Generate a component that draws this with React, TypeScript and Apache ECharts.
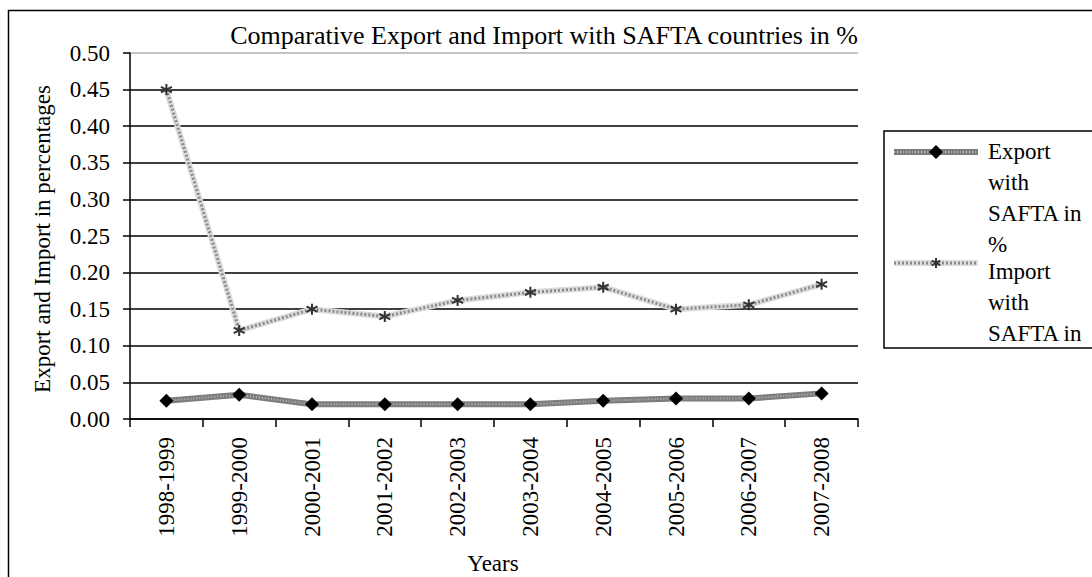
import React, { useEffect, useRef } from "react";
import * as echarts from "echarts";

const years = [
  "1998-1999", "1999-2000", "2000-2001", "2001-2002", "2002-2003",
  "2003-2004", "2004-2005", "2005-2006", "2006-2007", "2007-2008",
];
const exportShare = [0.025, 0.033, 0.02, 0.02, 0.02, 0.02, 0.025, 0.028, 0.028, 0.035];
const importShare = [0.45, 0.121, 0.15, 0.14, 0.162, 0.173, 0.18, 0.15, 0.156, 0.184];

const titleText = "Comparative Export and Import with SAFTA countries in %";
const yTitle = "Export and Import in percentages";
const xTitle = "Years";
const exportLegend = "Export\nwith\nSAFTA in\n%";
const importLegend = "Import\nwith\nSAFTA in";

const FONT = "Liberation Serif, Times New Roman, serif";
const STAR = "path://M5,0L5,10M0.7,2.5L9.3,7.5M9.3,2.5L0.7,7.5";

const serif = (size: number) => ({ fontFamily: FONT, fontSize: size, fill: "#000" });

export default function App() {
  const ref = useRef<HTMLDivElement>(null);

  useEffect(() => {
    if (!ref.current) return;
    const chart = echarts.init(ref.current, null, { renderer: "svg" });

    const gridColors = [
      "#000", "#000", "#000", "#000", "#000", "#000",
      "#000", "#000", "#000", "#000", "#b0b0b0",
    ];

    chart.setOption({
      animation: false,
      backgroundColor: "#fff",
      textStyle: { fontFamily: FONT },
      grid: { left: 130, right: 234, top: 53, bottom: 158, containLabel: false },
      xAxis: {
        type: "category",
        data: years,
        boundaryGap: true,
        axisLine: { lineStyle: { color: "#000", width: 1.5 } },
        axisTick: { show: true, length: 8, lineStyle: { color: "#000", width: 1.5 } },
        axisLabel: {
          rotate: 90,
          margin: 18,
          color: "#000",
          fontFamily: FONT,
          fontSize: 23,
        },
        splitLine: { show: false },
      },
      yAxis: {
        type: "value",
        min: 0,
        max: 0.5,
        interval: 0.05,
        axisLine: { show: true, lineStyle: { color: "#000", width: 1.5 } },
        axisTick: { show: true, length: 7, lineStyle: { color: "#000", width: 1.5 } },
        axisLabel: {
          margin: 20,
          color: "#000",
          fontFamily: FONT,
          fontSize: 23,
          formatter: (v: number) => v.toFixed(2),
        },
        splitLine: { show: true, lineStyle: { color: gridColors, width: 1.5 } },
      },
      series: [
        {
          name: "Export base",
          type: "line",
          data: exportShare,
          symbol: "none",
          silent: true,
          lineStyle: { color: "#7d7d7d", width: 6 },
          z: 2,
        },
        {
          name: "Import base",
          type: "line",
          data: importShare,
          symbol: "none",
          silent: true,
          lineStyle: { color: "#dcdcdc", width: 6 },
          z: 2,
        },
        {
          name: "Export with SAFTA in %",
          type: "line",
          data: exportShare,
          symbol: "diamond",
          symbolSize: 14,
          itemStyle: { color: "#000" },
          lineStyle: { color: "#b8b8b8", width: 2, type: [1, 2] },
          z: 3,
        },
        {
          name: "Import with SAFTA in %",
          type: "line",
          data: importShare,
          symbol: STAR,
          symbolSize: 11,
          itemStyle: { color: "#333", borderColor: "#333", borderWidth: 2 },
          lineStyle: { color: "#8a8a8a", width: 3, type: [2, 2] },
          z: 3,
        },
      ],
      graphic: [
        // outer chart frame
        {
          type: "rect",
          shape: { x: 8.5, y: 10.5, width: 1200, height: 700 },
          style: { fill: "none", stroke: "#000", lineWidth: 1.5 },
          silent: true,
          z: -1,
        },
        {
          type: "text",
          x: 544,
          y: 22,
          style: { ...serif(26), text: titleText, textAlign: "center", textVerticalAlign: "top" },
        },
        {
          type: "text",
          x: 42,
          y: 239,
          rotation: Math.PI / 2,
          style: { ...serif(23), text: yTitle, textAlign: "center", textVerticalAlign: "middle" },
        },
        {
          type: "text",
          x: 493,
          y: 563,
          style: { ...serif(23), text: xTitle, textAlign: "center", textVerticalAlign: "middle" },
        },
        // legend box
        {
          type: "rect",
          shape: { x: 884, y: 131, width: 300, height: 217 },
          style: { fill: "#fff", stroke: "#000", lineWidth: 1.5 },
        },
        {
          type: "line",
          shape: { x1: 894, y1: 152, x2: 978, y2: 152 },
          style: { stroke: "#7d7d7d", lineWidth: 6 },
        },
        {
          type: "line",
          shape: { x1: 894, y1: 152, x2: 978, y2: 152 },
          style: { stroke: "#b8b8b8", lineWidth: 2, lineDash: [1, 2] },
        },
        {
          type: "polygon",
          shape: { points: [[936, 145], [943, 152], [936, 159], [929, 152]] },
          style: { fill: "#000" },
        },
        {
          type: "text",
          x: 988,
          y: 136,
          style: { ...serif(23), text: exportLegend, lineHeight: 31, textVerticalAlign: "top" },
        },
        {
          type: "line",
          shape: { x1: 894, y1: 263, x2: 978, y2: 263 },
          style: { stroke: "#dcdcdc", lineWidth: 6 },
        },
        {
          type: "line",
          shape: { x1: 894, y1: 263, x2: 978, y2: 263 },
          style: { stroke: "#8a8a8a", lineWidth: 3, lineDash: [2, 2] },
        },
        {
          type: "group",
          x: 936,
          y: 263,
          children: [
            { type: "line", shape: { x1: 0, y1: -5, x2: 0, y2: 5 }, style: { stroke: "#333", lineWidth: 2 } },
            { type: "line", shape: { x1: -4.3, y1: -2.5, x2: 4.3, y2: 2.5 }, style: { stroke: "#333", lineWidth: 2 } },
            { type: "line", shape: { x1: 4.3, y1: -2.5, x2: -4.3, y2: 2.5 }, style: { stroke: "#333", lineWidth: 2 } },
          ],
        },
        {
          type: "text",
          x: 988,
          y: 256,
          style: { ...serif(23), text: importLegend, lineHeight: 31, textVerticalAlign: "top" },
        },
      ],
    });

    return () => chart.dispose();
  }, []);

  return (
    <div
      ref={ref}
      style={{ position: "fixed", left: 0, top: 0, width: 1092, height: 577 }}
    />
  );
}
